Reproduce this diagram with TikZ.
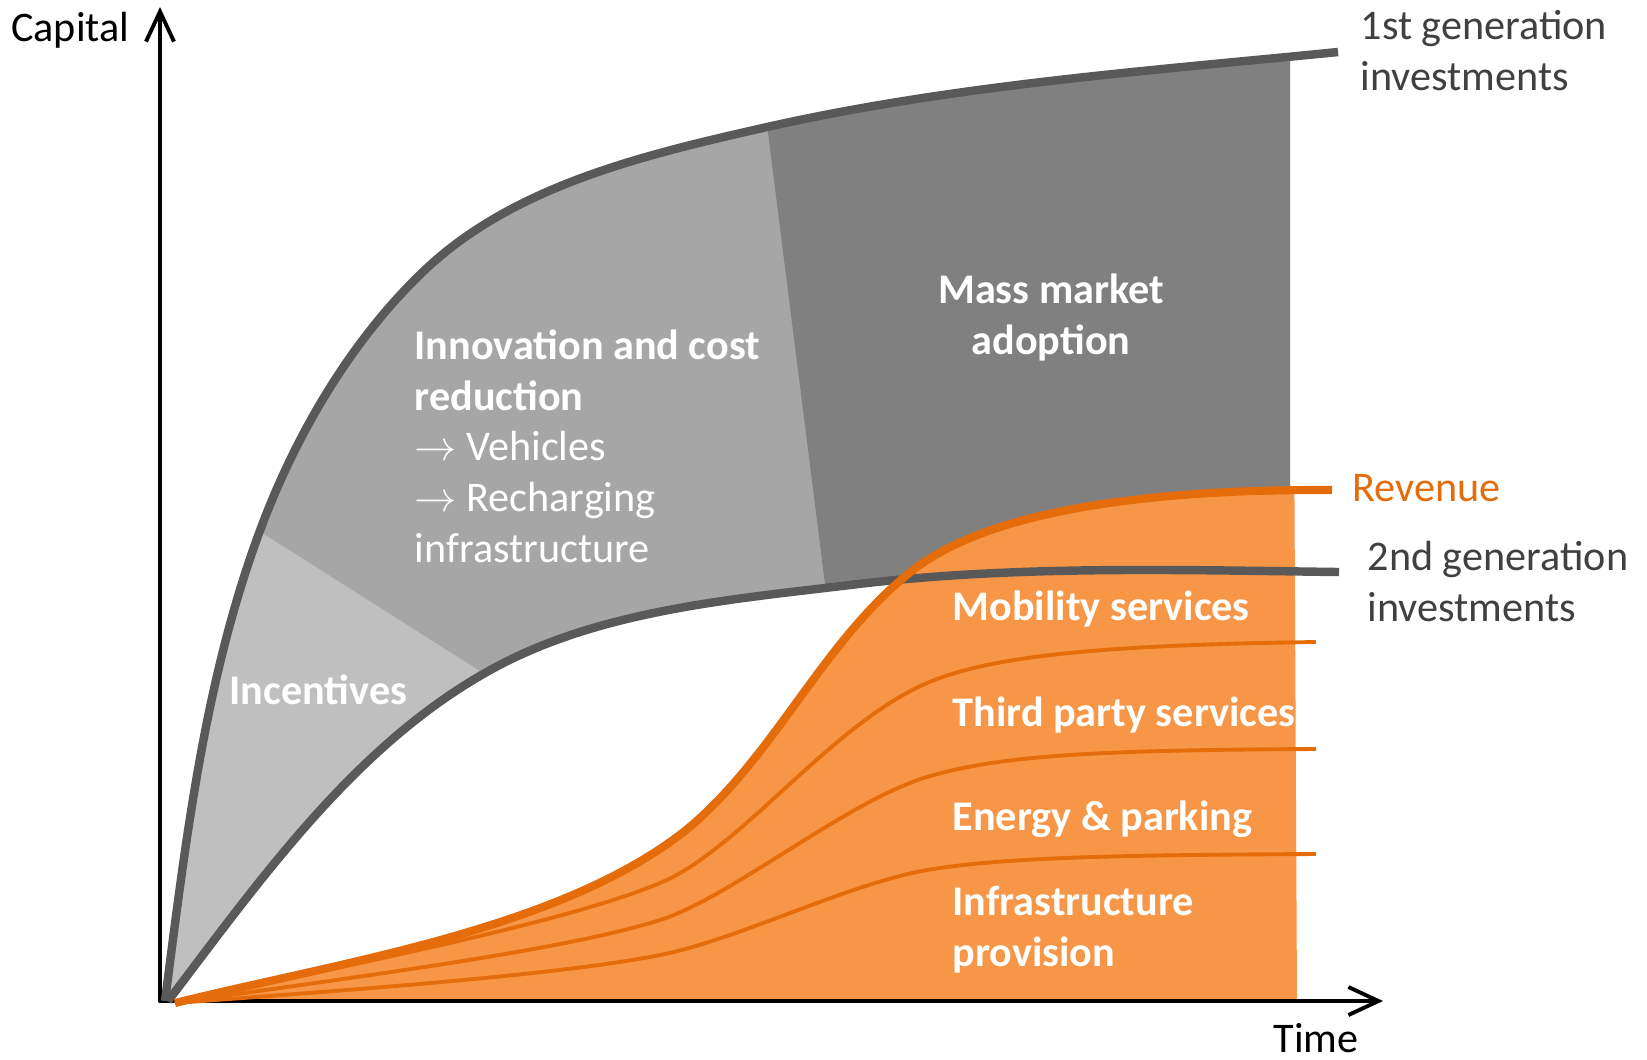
\documentclass[tikz,border=0pt]{standalone}
\usepackage{fontspec}
\setmainfont{Carlito}
\usetikzlibrary{arrows.meta}

\definecolor{incgray}{HTML}{BFBFBF}
\definecolor{innogray}{HTML}{A6A6A6}
\definecolor{massgray}{HTML}{808080}
\definecolor{linegray}{HTML}{595959}
\definecolor{textgray}{HTML}{404040}
\definecolor{revfill}{HTML}{F79646}
\definecolor{revline}{HTML}{E46C0A}

\begin{document}
\begin{tikzpicture}[
        x=0.01cm, y=-0.01cm,
        font=\fontsize{12pt}{14.4pt}\selectfont,
        axis/.style = {line width=1.1pt, line cap=round, -{Straight Barb[length=3mm, width=2.8mm]}},
        gencurve/.style = {draw=linegray, line width=2.4pt},
        revcurve/.style = {draw=revline, line width=2.3pt},
        subcurve/.style = {draw=revline, line width=1.1pt},
        seglabel/.style = {text=white, font=\fontsize{12pt}{14.4pt}\selectfont\bfseries, inner sep=0pt, align=left},
        sidelabel/.style = {text=textgray, inner sep=0pt, align=left}
    ]
        \useasboundingbox (0,0) rectangle (1647,1059);

        % Investment phases (between the two investment curves)
        \begin{scope}
            \clip (165,1001) .. controls (186,839) and (205,673) .. (264,520)
                .. controls (300,427) and (355,335) .. (428,267)
                .. controls (518,184) and (648,154) .. (767,127)
                .. controls (954,85) and (1147,71) .. (1338,52)
                -- (1339,572) .. controls (1179,570) and (1012,565) .. (850,585)
                .. controls (726,600) and (593,611) .. (485,673)
                .. controls (353,748) and (260,880) .. (168,1001) -- cycle;
            \clip (0,0) rectangle (1290,1059);
            \fill[incgray] (0,0) rectangle (1647,1059);
            \fill[innogray] (204,496) -- (548,714) -- (832,640) -- (760,70) -- (204,0) -- cycle;
            \fill[massgray] (760,70) -- (832,640) -- (1290,640) -- (1290,0) -- (750,0) -- cycle;
        \end{scope}

        % Revenue area
        \begin{scope}
            \clip (0,0) -- (1292,0) -- (1297,1001) -- (0,1001) -- cycle;
            \fill[revfill] (175,1003) .. controls (340,962) and (560,930) .. (686,830)
                .. controls (775,757) and (822,641) .. (913,570)
                .. controls (990,510) and (1150,489) .. (1332,490)
                -- (1332,1001) -- (175,1001) -- cycle;
        \end{scope}

        % Axes
        \coordinate (origin) at (160,1001);
        \coordinate (ytip) at (160,7);
        \coordinate (xtip) at (1383,1001);
        \draw[axis] (origin) -- (ytip);
        \draw[axis] (origin) -- (xtip);

        % Investment curves
        \draw[gencurve] (165,1001) .. controls (186,839) and (205,673) .. (264,520)
            .. controls (300,427) and (355,335) .. (428,267)
            .. controls (518,184) and (648,154) .. (767,127)
            .. controls (954,85) and (1147,71) .. (1338,52);
        \draw[gencurve] (168,1001) .. controls (260,880) and (353,748) .. (485,673)
            .. controls (593,611) and (726,600) .. (850,585)
            .. controls (1012,565) and (1179,570) .. (1339,572);

        % Revenue streams
        \draw[subcurve] (175,1003) .. controls (330,968) and (560,925) .. (660,883)
            .. controls (740,850) and (830,725) .. (927,683)
            .. controls (990,656) and (1100,645) .. (1316,642);
        \draw[subcurve] (175,1003) .. controls (330,980) and (560,952) .. (660,920)
            .. controls (730,898) and (847,801) .. (927,777)
            .. controls (1000,755) and (1100,750) .. (1316,749);
        \draw[subcurve] (175,1003) .. controls (350,990) and (560,975) .. (660,955)
            .. controls (740,939) and (847,884) .. (927,870)
            .. controls (1000,858) and (1100,855) .. (1316,854);
        \draw[revcurve] (175,1003) .. controls (340,962) and (560,930) .. (686,830)
            .. controls (775,757) and (822,641) .. (913,570)
            .. controls (990,510) and (1150,489) .. (1332,490);

        % Axis labels
        \node[anchor=base east, inner sep=0pt] (capital) at (130,41) {Capital};
        \node[anchor=base west, inner sep=0pt] (time) at (1273,1052) {Time};

        % Curve labels
        \node[sidelabel, anchor=base west] (firstgenlabel) at (1360,90) {1st generation\\investments};
        \node[sidelabel, anchor=base west, text=revline] (revlabel) at (1352,501) {Revenue};
        \node[sidelabel, anchor=base west] (secondgenlabel) at (1367,621) {2nd generation\\investments};

        % Phase labels
        \node[seglabel, anchor=base, align=center] (mass) at (1051,354) {Mass market\\adoption};
        \node[seglabel, anchor=base west, font=\fontsize{12pt}{14.4pt}\selectfont] (innovation) at (414,562)
            {\textbf{Innovation and cost}\\\textbf{reduction}\\$\rightarrow$ Vehicles\\$\rightarrow$ Recharging\\infrastructure};
        \node[seglabel, anchor=base west] (incentives) at (229,704) {Incentives};

        % Revenue labels
        \node[seglabel, anchor=base west] (mobility) at (952,620) {Mobility services};
        \node[seglabel, anchor=base west] (thirdparty) at (952,726) {Third party services};
        \node[seglabel, anchor=base west] (energy) at (952,830) {Energy \& parking};
        \node[seglabel, anchor=base west] (infra) at (952,966) {Infrastructure\\provision};
    \end{tikzpicture}
\end{document}
